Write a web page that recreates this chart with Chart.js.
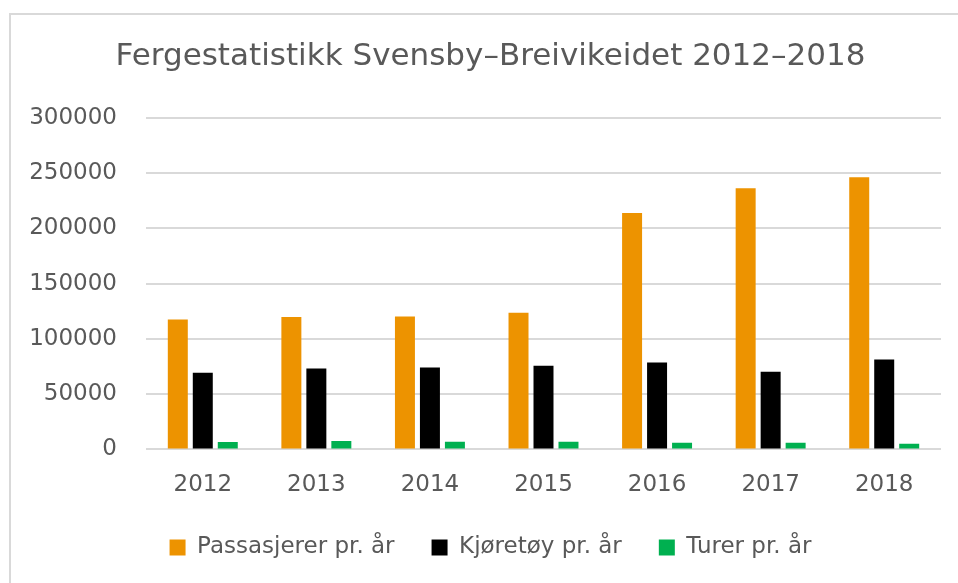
<!DOCTYPE html>
<html>
<head>
<meta charset="utf-8">
<script src="https://cdn.jsdelivr.net/npm/chart.js@4/dist/chart.umd.min.js"></script>
<style>
  html, body { margin: 0; padding: 0; background: #fff; overflow: hidden; }
  #frame {
    position: absolute; left: 9px; top: 13px; width: 1000px; height: 600px;
    border-left: 2px solid #d9d9d9; border-top: 2px solid #d9d9d9;
  }
  #wrap { position: absolute; left: 0; top: 0; width: 959px; height: 554px; }
</style>
</head>
<body>
<div id="frame">
  <div id="wrap"><canvas id="chart"></canvas></div>
</div>
<script>
    // Years on the x axis
    const years = ['2012', '2013', '2014', '2015', '2016', '2017', '2018'];

    // Values
    const passasjerer = [117700, 119800, 120400, 123700, 214100, 236500, 246300];
    const kjoretoy = [69300, 73200, 74100, 75700, 78700, 70200, 81400];
    const turer = [6700, 7600, 7000, 7000, 6100, 6100, 5200];

    const seriesNames = ['Passasjerer pr. år', 'Kjøretøy pr. år', 'Turer pr. år'];
    const seriesColors = ['#ED9300', '#000000', '#00B050'];

    const yMin = 0, yMax = 300000, yStep = 50000;

    const textColor = '#595959';
    const fontFamily = '"DejaVu Sans", Verdana, sans-serif';

    const ctx = document.getElementById('chart').getContext('2d');

    const chartData = {
        labels: years,
        datasets: [passasjerer, kjoretoy, turer].map((values, i) => ({
            label: seriesNames[i],
            data: values,
            backgroundColor: seriesColors[i],
            borderWidth: 0,
            categoryPercentage: 0.66,
            barPercentage: 0.8
        }))
    };

    new Chart(ctx, {
        type: 'bar',
        data: chartData,
        options: {
            responsive: true,
            maintainAspectRatio: false,
            animation: false,
            layout: { padding: 0 },
            plugins: {
                title: {
                    display: true,
                    text: 'Fergestatistikk Svensby–Breivikeidet 2012–2018',
                    color: textColor,
                    font: { family: fontFamily, size: 31, weight: 'normal' },
                    padding: { top: 23.4, bottom: 42.4 }
                },
                legend: {
                    position: 'bottom',
                    labels: {
                        color: textColor,
                        font: { family: fontFamily, size: 23 },
                        boxWidth: 16,
                        boxHeight: 16,
                        padding: 37
                    }
                },
                tooltip: { enabled: false }
            },
            scales: {
                x: {
                    grid: { display: false, drawTicks: false },
                    border: { display: false },
                    ticks: {
                        color: textColor,
                        font: { family: fontFamily, size: 23 },
                        padding: 22
                    },
                    afterFit: scale => { scale.height = 49.6; }
                },
                y: {
                    min: yMin,
                    max: yMax,
                    border: { display: false },
                    grid: { color: '#d9d9d9', lineWidth: 2, drawTicks: false },
                    ticks: {
                        stepSize: yStep,
                        color: textColor,
                        font: { family: fontFamily, size: 23 },
                        padding: 29,
                        callback: v => String(v)
                    },
                    afterFit: scale => { scale.width = 135; }
                },
                // empty right-hand spacer so the plot ends where the reference does
                yRight: {
                    position: 'right',
                    min: yMin,
                    max: yMax,
                    grid: { display: false, drawTicks: false },
                    border: { display: false },
                    ticks: { display: false },
                    afterFit: scale => { scale.width = 29; }
                }
            }
        }
    });
</script>
</body>
</html>
